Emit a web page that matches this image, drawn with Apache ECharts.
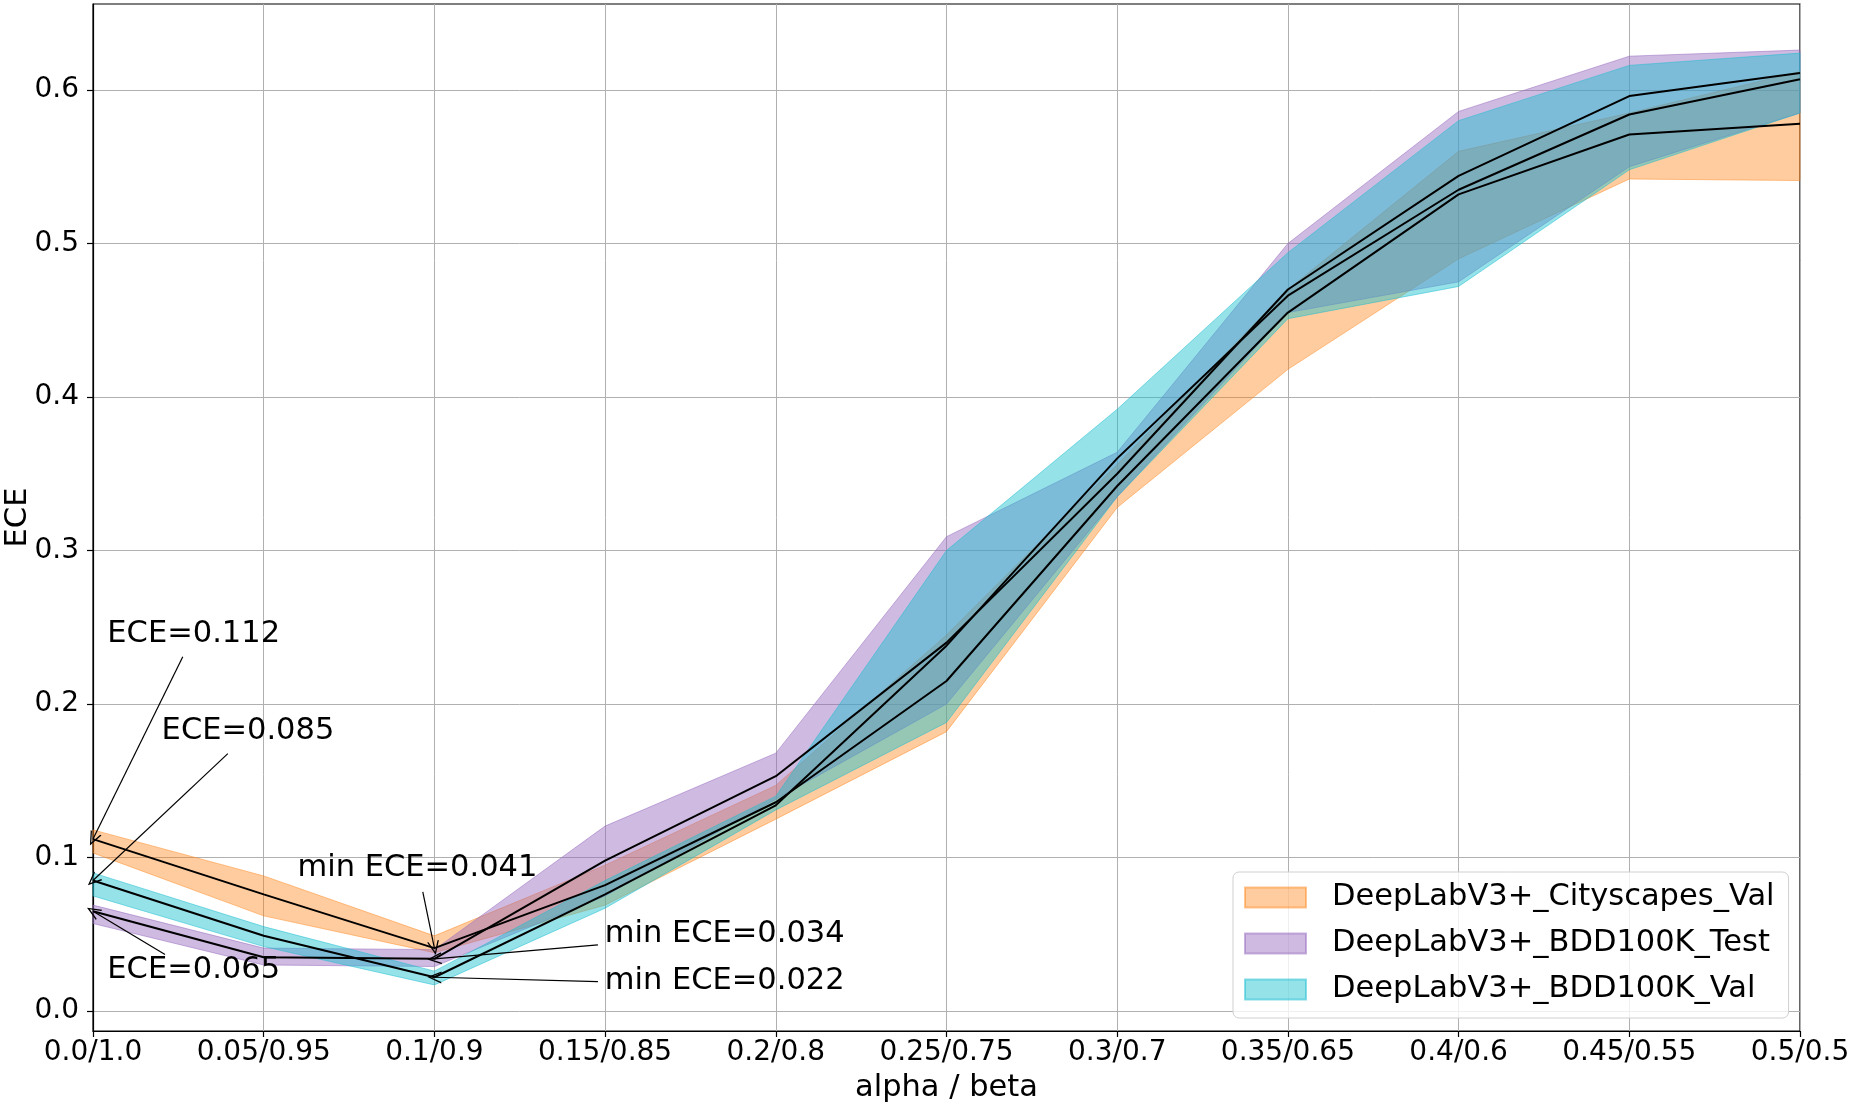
<!DOCTYPE html>
<html lang="en">
<head>
  <meta charset="UTF-8">
  <title>ECE - alpha / beta</title>
  <script src="https://cdn.jsdelivr.net/npm/echarts@6/dist/echarts.min.js"></script>
  <style>
    html, body { margin: 0; padding: 0; background: #fff; }
    #main { width: 1853px; height: 1103px; }
  </style>
</head>
<body>
<div id="main"></div>
<script>
  var myChart = echarts.init(document.getElementById('main'));

  // x positions and their tick labels
  var alphas = [0, 0.05, 0.1, 0.15, 0.2, 0.25, 0.3, 0.35, 0.4, 0.45, 0.5];
  var xLabels = ['0.0/1.0', '0.05/0.95', '0.1/0.9', '0.15/0.85', '0.2/0.8', '0.25/0.75',
                 '0.3/0.7', '0.35/0.65', '0.4/0.6', '0.45/0.55', '0.5/0.5'];
  var yTicks = [0, 0.1, 0.2, 0.3, 0.4, 0.5, 0.6];

  var seriesNames = ['DeepLabV3+_Cityscapes_Val', 'DeepLabV3+_BDD100K_Test', 'DeepLabV3+_BDD100K_Val'];

  // Cityscapes val
  var cityMean = [0.112, 0.076, 0.041, 0.082, 0.136, 0.215, 0.342, 0.455, 0.532, 0.571, 0.578];
  var cityLow  = [0.103, 0.062, 0.038, 0.069, 0.125, 0.182, 0.328, 0.418, 0.490, 0.542, 0.541];
  var cityHigh = [0.118, 0.088, 0.049, 0.095, 0.147, 0.245, 0.356, 0.470, 0.560, 0.585, 0.612];

  // BDD100K test
  var testMean = [0.065, 0.035, 0.034, 0.098, 0.153, 0.240, 0.350, 0.470, 0.544, 0.596, 0.611];
  var testLow  = [0.057, 0.030, 0.029, 0.075, 0.138, 0.200, 0.335, 0.455, 0.475, 0.550, 0.585];
  var testHigh = [0.069, 0.041, 0.040, 0.1205, 0.168, 0.309, 0.364, 0.500, 0.586, 0.622, 0.626];

  // BDD100K val
  var valMean = [0.085, 0.049, 0.022, 0.076, 0.134, 0.238, 0.360, 0.466, 0.535, 0.584, 0.607];
  var valLow  = [0.075, 0.042, 0.017, 0.067, 0.131, 0.188, 0.335, 0.451, 0.472, 0.548, 0.585];
  var valHigh = [0.090, 0.055, 0.026, 0.085, 0.140, 0.300, 0.392, 0.494, 0.580, 0.616, 0.624];

  // annotations: text anchor (left/middle), arrow start and arrow tip
  var annoText  = ['ECE=0.112', 'ECE=0.085', 'ECE=0.065', 'min ECE=0.041', 'min ECE=0.034', 'min ECE=0.022'];
  var annoTextX = [0.0042, 0.0201, 0.0042, 0.0599, 0.1499, 0.1499];
  var annoTextY = [0.2454, 0.1823, 0.0269, 0.0931, 0.0500, 0.0192];
  var arrowFromX = [0.0263, 0.0395, 0.0211, 0.0966, 0.1479, 0.1479];
  var arrowFromY = [0.2308, 0.1677, 0.0369, 0.0777, 0.0431, 0.0192];
  var arrowToX = [0, 0, 0, 0.1, 0.1, 0.1];
  var arrowToY = [0.112, 0.085, 0.065, 0.041, 0.034, 0.022];

  var fillColors = ['rgba(255,127,14,0.4)', 'rgba(148,103,189,0.45)', 'rgba(23,190,207,0.45)'];
  var edgeColors = ['rgba(255,127,14,0.45)', 'rgba(148,103,189,0.5)', 'rgba(23,190,207,0.5)'];

  var font = 'DejaVu Sans';
  var tickSize = 28;
  var textSize = 30.5;
  var arrowHead = 'path://M0,14 L6,0 L12,14 L10.6,14 L6,3.3 L1.4,14 Z';

  function bandSeries(name, low, high, fill, edge) {
    return {
      name: name,
      type: 'custom',
      data: alphas.map(function (a, i) { return [a, low[i], high[i]]; }),
      encode: { x: 0, y: [1, 2] },
      itemStyle: { color: fill, borderColor: edge, borderWidth: 1 },
      renderItem: function (params, api) {
        if (params.dataIndex !== 0) return;
        var pts = [];
        for (var i = 0; i < alphas.length; i++) pts.push(api.coord([alphas[i], high[i]]));
        for (var j = alphas.length - 1; j >= 0; j--) pts.push(api.coord([alphas[j], low[j]]));
        return {
          type: 'polygon',
          shape: { points: pts },
          style: { fill: fill, stroke: edge, lineWidth: 1 }
        };
      },
      animation: false
    };
  }

  function meanSeries(name, mean) {
    return {
      name: name,
      type: 'line',
      data: alphas.map(function (a, i) { return [a, mean[i]]; }),
      symbol: 'none',
      lineStyle: { color: '#000', width: 2 },
      itemStyle: { color: '#000' },
      animation: false
    };
  }

  var arrows = annoText.map(function (t, i) {
    return [{ coord: [arrowFromX[i], arrowFromY[i]] }, { coord: [arrowToX[i], arrowToY[i]] }];
  });

  option = {
    backgroundColor: '#fff',
    textStyle: { fontFamily: font },
    grid: {
      left: 93,
      right: 53,
      top: 4,
      bottom: 72,
      containLabel: false,
      outerBoundsMode: 'none',
      show: true,
      borderColor: '#000',
      borderWidth: 1.2,
      backgroundColor: 'transparent'
    },
    legend: {
      orient: 'vertical',
      left: 1233,
      top: 872,
      padding: [10, 14, 13, 11],
      itemWidth: 61,
      itemHeight: 20,
      itemGap: 15,
      icon: 'rect',
      backgroundColor: 'rgba(255,255,255,0.8)',
      borderColor: '#d0d0d0',
      borderWidth: 1,
      borderRadius: 6,
      textStyle: { fontSize: textSize, color: '#000', fontFamily: font, lineHeight: 30, padding: [0, 0, 0, 21] },
      data: seriesNames
    },
    xAxis: {
      type: 'value',
      min: 0,
      max: 0.5,
      interval: 0.05,
      name: 'alpha / beta',
      nameLocation: 'middle',
      nameGap: 42,
      nameMoveOverlap: false,
      nameTextStyle: { fontSize: textSize, color: '#000', fontFamily: font },
      axisLine: { show: true, onZero: false, lineStyle: { color: '#000', width: 1.2 } },
      axisTick: { show: true, length: 6, lineStyle: { color: '#000', width: 1.2 } },
      axisLabel: {
        fontSize: tickSize, color: '#000', fontFamily: font, margin: 8,
        formatter: function (v) { return xLabels[Math.round(v / 0.05)]; }
      },
      splitLine: { show: true, lineStyle: { color: '#b0b0b0', width: 1 } }
    },
    yAxis: {
      type: 'value',
      min: -0.013,
      max: 0.656,
      name: 'ECE',
      nameLocation: 'middle',
      nameGap: 59,
      nameMoveOverlap: false,
      nameTextStyle: { fontSize: textSize, color: '#000', fontFamily: font },
      axisLine: { show: true, onZero: false, lineStyle: { color: '#000', width: 1.2 } },
      axisTick: { show: true, length: 6, customValues: yTicks, lineStyle: { color: '#000', width: 1.2 } },
      axisLabel: {
        customValues: yTicks,
        fontSize: tickSize, color: '#000', fontFamily: font, margin: 14,
        formatter: function (v) { return v.toFixed(1); }
      },
      splitLine: { show: true, lineStyle: { color: '#b0b0b0', width: 1 } }
    },
    series: [
      bandSeries(seriesNames[0], cityLow, cityHigh, fillColors[0], edgeColors[0]),
      meanSeries('mean_city', cityMean),
      bandSeries(seriesNames[1], testLow, testHigh, fillColors[1], edgeColors[1]),
      meanSeries('mean_test', testMean),
      bandSeries(seriesNames[2], valLow, valHigh, fillColors[2], edgeColors[2]),
      meanSeries('mean_val', valMean),
      {
        name: 'annotations',
        type: 'scatter',
        data: annoText.map(function (t, i) { return [annoTextX[i], annoTextY[i], t]; }),
        symbolSize: 0,
        z: 10,
        itemStyle: { opacity: 1, color: '#000' },
        label: {
          show: true,
          position: 'right',
          distance: 0,
          fontSize: textSize,
          color: '#000',
          opacity: 1,
          fontFamily: font,
          formatter: function (p) { return p.data[2]; }
        },
        markLine: {
          silent: true,
          symbol: ['none', arrowHead],
          symbolSize: [12, 14],
          lineStyle: { color: '#000', width: 1.2, type: 'solid', opacity: 1 },
          label: { show: false },
          data: arrows,
          animation: false
        },
        animation: false
      }
    ]
  };

  myChart.setOption(option);
</script>
</body>
</html>
